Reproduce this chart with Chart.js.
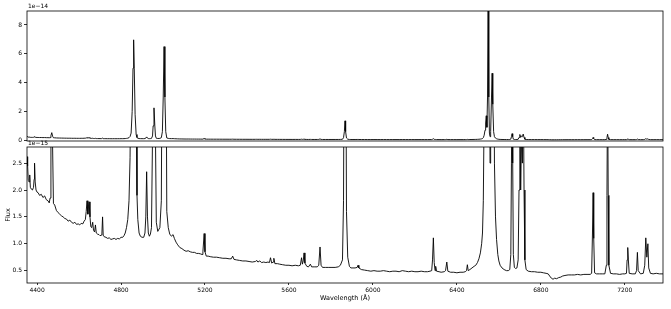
<!DOCTYPE html>
<html>
<head>
<meta charset="utf-8">
<script src="https://cdn.jsdelivr.net/npm/chart.js@4/dist/chart.umd.min.js"></script>
<style>
  html, body { margin: 0; padding: 0; background: #fff; }
  #wrap { position: relative; width: 671px; height: 309px; }
  #wrap canvas { position: absolute; left: 0; top: 0; }
</style>
</head>
<body>
<div id="wrap">
  <canvas id="top" width="671" height="309"></canvas>
  <canvas id="bottom" width="671" height="309"></canvas>
</div>
<script>
// Wavelength (Å)
const wavelength = [
4352,4355,4358,4362,4365,4368,4372,4378,4383,4386,4388,4391,4395,4400,4405,4412,4420,4428,4436,4444,
4452,4458,4462,4466,4470,4474,4478,4484,4492,4500,4508,4516,4524,4532,4540,4548,4556,4564,4572,4580,
4588,4596,4603,4610,4618,4624,4630,4634,4638,4642,4645,4648,4652,4656,4660,4665,4669,4674,4678,4682,
4688,4695,4700,4706,4709,4712,4715,4720,4728,4736,4744,4752,4760,4768,4776,4784,4792,4800,4808,4814,
4820,4826,4832,4838,4843,4848,4853,4857,4860,4863,4867,4872,4876,4880,4886,4892,4900,4908,4914,4918,
4922,4926,4930,4935,4940,4945,4950,4953,4957,4961,4964,4968,4975,4985,4992,4997,5001,5005,5009,5013,
5018,5025,5032,5040,5048,5054,5062,5070,5080,5090,5100,5110,5120,5130,5140,5150,5160,5170,5180,5186,
5190,5196,5200,5206,5215,5225,5240,5255,5270,5285,5300,5315,5325,5332,5338,5350,5365,5380,5395,5410,
5425,5440,5447,5452,5461,5470,5480,5490,5500,5507,5512,5518,5524,5528,5533,5545,5556,5570,5585,5600,
5615,5630,5645,5654,5660,5664,5668,5672,5676,5685,5693,5702,5708,5720,5735,5742,5748,5753,5760,5775,
5790,5805,5820,5835,5845,5855,5860,5864,5867,5870,5874,5880,5888,5895,5905,5915,5925,5929,5933,5945,
5960,5975,5990,6005,6020,6035,6050,6065,6080,6095,6110,6125,6140,6155,6170,6185,6200,6215,6230,6245,
6260,6272,6280,6284,6288,6292,6296,6299,6303,6315,6325,6340,6346,6352,6357,6370,6385,6400,6415,6430,
6440,6446,6450,6454,6462,6472,6482,6490,6498,6505,6512,6518,6522,6526,6530,6534,6537,6540,6543,6546,
6549,6552,6555,6558,6561,6565,6568,6571,6575,6579,6584,6589,6595,6600,6606,6615,6625,6636,6645,6652,
6657,6660,6663,6666,6669,6674,6680,6686,6692,6696,6700,6704,6708,6712,6716,6720,6724,6730,6740,6755,
6770,6785,6800,6812,6825,6835,6842,6850,6858,6866,6875,6885,6895,6904,6915,6930,6945,6960,6975,6990,
7005,7020,7035,7042,7046,7049,7052,7056,7065,7080,7095,7105,7112,7115,7118,7121,7124,7132,7145,7160,
7175,7190,7200,7208,7211,7214,7217,7221,7235,7250,7256,7260,7264,7275,7288,7295,7300,7305,7310,7314,
7322,7335,7350,7365,7382
];

// Flux in units of 1e-15
const flux = [
2.62,2.45,2.18,2.15,2.28,2.05,2.02,2.00,2.05,2.2,2.50,2.15,2.0,1.96,1.95,1.90,1.92,1.86,1.89,1.82,
1.80,1.76,1.85,3.2,5.3,2.8,1.75,1.72,1.62,1.58,1.55,1.52,1.50,1.47,1.46,1.42,1.44,1.40,1.38,1.40,
1.36,1.37,1.35,1.38,1.37,1.42,1.45,1.60,1.80,1.55,1.70,1.78,1.50,1.32,1.30,1.40,1.25,1.22,1.35,1.20,
1.18,1.17,1.15,1.16,1.20,1.50,1.16,1.13,1.12,1.10,1.11,1.08,1.09,1.10,1.08,1.10,1.09,1.12,1.12,1.15,
1.20,1.30,1.45,1.80,2.6,5,20,50,69.7,50,18,4,1.9,1.45,1.2,1.14,1.12,1.12,1.2,1.5,
2.34,1.5,1.2,1.14,1.18,1.3,3,10,22.5,10,3,1.4,1.23,1.3,1.8,6,30,65,30,6,
1.6,1.3,1.18,1.14,1.17,1.10,1.03,0.98,0.93,0.91,0.88,0.86,0.87,0.85,0.84,0.84,0.82,0.82,0.81,0.80,
0.85,1.19,0.85,0.77,0.77,0.76,0.75,0.75,0.74,0.73,0.73,0.72,0.72,0.77,0.71,0.70,0.69,0.68,0.68,0.67,
0.66,0.67,0.69,0.66,0.68,0.65,0.66,0.65,0.66,0.65,0.74,0.64,0.66,0.73,0.63,0.63,0.62,0.61,0.60,0.60,
0.59,0.60,0.59,0.60,0.74,0.62,0.68,0.83,0.64,0.58,0.57,0.62,0.57,0.57,0.57,0.60,0.94,0.60,0.56,0.56,
0.56,0.56,0.56,0.57,0.60,0.70,1.8,6,13.5,6,1.6,0.75,0.58,0.55,0.55,0.55,0.56,0.60,0.55,0.52,
0.51,0.50,0.49,0.50,0.49,0.49,0.50,0.49,0.48,0.49,0.49,0.48,0.50,0.49,0.48,0.49,0.48,0.48,0.49,0.48,
0.48,0.49,0.50,0.70,1.11,0.65,0.50,0.58,0.49,0.48,0.47,0.48,0.50,0.66,0.49,0.47,0.47,0.46,0.47,0.47,
0.48,0.50,0.61,0.50,0.52,0.55,0.58,0.60,0.65,0.72,0.83,1.0,1.2,1.8,3.5,7,12,17,9,30,
110,30,5,2.5,6,30,46.5,25,6,2.5,1.5,1.08,0.80,0.68,0.60,0.55,0.52,0.50,0.50,0.52,
0.8,2.5,4.6,2.5,0.8,0.56,0.54,0.55,0.7,2,4.0,2,3.0,2.5,4.3,2,0.7,0.52,0.49,0.48,
0.48,0.47,0.47,0.46,0.45,0.44,0.40,0.36,0.34,0.36,0.35,0.37,0.38,0.40,0.41,0.42,0.42,0.42,0.43,0.42,
0.43,0.43,0.43,0.45,1.2,1.95,1.1,0.46,0.44,0.44,0.44,0.44,0.6,1.9,4.2,1.9,0.6,0.45,0.44,0.44,
0.43,0.44,0.44,0.45,0.7,0.93,0.7,0.45,0.44,0.44,0.50,0.84,0.50,0.44,0.45,0.60,1.11,0.75,1.0,0.55,
0.45,0.44,0.45,0.44,0.44
];

const xTicks = [4400, 4800, 5200, 5600, 6000, 6400, 6800, 7200];
const topTicks = [0, 2, 4, 6, 8];              // ×1e-14
const bottomTicks = [0.5, 1.0, 1.5, 2.0, 2.5]; // ×1e-15

const points = wavelength.map((w, i) => ({ x: w, y: flux[i] }));

Chart.defaults.font.family = '"DejaVu Sans", sans-serif';
Chart.defaults.color = '#000';

const framePlugin = {
  id: 'frame',
  afterDraw(chart, args, opts) {
    const { ctx, chartArea: a } = chart;
    ctx.save();
    ctx.strokeStyle = '#000';
    ctx.lineWidth = 0.8;
    ctx.strokeRect(a.left, a.top, a.right - a.left, a.bottom - a.top);
    if (opts.text) {
      ctx.font = '6px "DejaVu Sans"';
      ctx.fillStyle = '#000';
      ctx.textBaseline = 'bottom';
      ctx.textAlign = 'left';
      ctx.fillText(opts.text, a.left + 1, opts.textY);
    }
    ctx.restore();
  }
};

const lineDataset = {
  data: points,
  borderColor: '#000',
  borderWidth: 0.9,
  borderJoinStyle: 'round',
  pointRadius: 0,
  tension: 0,
  fill: false
};

const xMin = 4352, xMax = 7382;

new Chart(document.getElementById('top'), {
  type: 'line',
  data: { datasets: [Object.assign({}, lineDataset)] },
  options: {
    responsive: false,
    animation: false,
    layout: { padding: { top: 11, right: 8, bottom: 168, left: 0 } },
    plugins: { legend: { display: false }, tooltip: { enabled: false },
               frame: { text: '1e\u221214', textY: 9.5 } },
    scales: {
      x: { type: 'linear', min: xMin, max: xMax, display: false },
      y: {
        min: -0.5, max: 89.7,
        afterFit: s => { s.width = 27; },
        afterBuildTicks: s => { s.ticks = topTicks.map(v => ({ value: v * 10 })); },
        border: { display: false },
        grid: { drawOnChartArea: false, tickLength: 3, color: '#000', lineWidth: 0.8 },
        ticks: { padding: 2, font: { size: 6 }, callback: v => String(v / 10) }
      }
    }
  },
  plugins: [framePlugin]
});

new Chart(document.getElementById('bottom'), {
  type: 'line',
  data: { datasets: [Object.assign({}, lineDataset)] },
  options: {
    responsive: false,
    animation: false,
    layout: { padding: { top: 147, right: 8, bottom: 0, left: 0 } },
    plugins: { legend: { display: false }, tooltip: { enabled: false },
               frame: { text: '1e\u221215', textY: 146.5 } },
    scales: {
      x: {
        type: 'linear', min: xMin, max: xMax,
        afterFit: s => { s.height = 26; },
        afterBuildTicks: s => { s.ticks = xTicks.map(v => ({ value: v })); },
        border: { display: false },
        grid: { drawOnChartArea: false, tickLength: 2, color: '#000', lineWidth: 0.8 },
        ticks: { padding: 2, font: { size: 6 }, maxRotation: 0, callback: v => String(v) },
        title: { display: true, text: 'Wavelength (Å)', font: { size: 6.5 }, padding: { top: 0, bottom: 7 } }
      },
      y: {
        min: 0.27, max: 2.8,
        afterFit: s => { s.width = 27; },
        afterBuildTicks: s => { s.ticks = bottomTicks.map(v => ({ value: v })); },
        border: { display: false },
        grid: { drawOnChartArea: false, tickLength: 3, color: '#000', lineWidth: 0.8 },
        ticks: { padding: 2, font: { size: 6 }, callback: v => v.toFixed(1) },
        title: { display: true, text: 'Flux', font: { size: 6.5 }, padding: { top: 4, bottom: 0 } }
      }
    }
  },
  plugins: [framePlugin]
});
</script>
</body>
</html>
